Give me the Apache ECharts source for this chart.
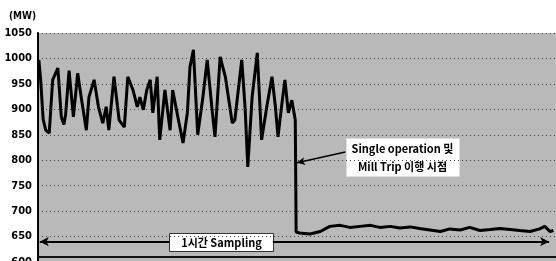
<!DOCTYPE html>
<html><head><meta charset="utf-8">
<script src="https://cdn.jsdelivr.net/npm/echarts@6/dist/echarts.min.js"></script>
<style>html,body{margin:0;padding:0;background:#fff}#c{width:556px;height:261px}</style>
</head><body><div id="c"></div>
<script>
// time in minutes (1 hour sampling window), power in MW
const timeMin = [0.1,0.3,0.6,0.9,1.3,1.7,2.3,2.7,3.0,3.2,3.6,4.1,4.6,5.0,5.6,5.9,6.5,7.0,7.5,7.9,8.2,8.8,9.4,10.0,10.4,11.0,11.5,11.8,12.2,12.6,13.0,13.3,13.8,14.1,14.7,15.3,15.6,16.2,16.8,17.3,17.6,18.0,18.5,19.1,19.6,20.2,20.5,21.1,21.7,22.5,22.8,23.6,24.0,24.3,24.8,25.4,25.9,26.5,27.1,27.5,27.8,28.3,28.6,29.0,29.4,29.8,29.9,30.3,31.5,32.7,33.8,35.0,36.1,37.3,38.5,39.6,40.8,41.9,43.1,44.2,45.4,46.6,47.7,48.9,50.0,51.2,52.4,53.5,54.7,55.8,57.0,58.1,58.7,59.3,59.7];
const powerMW = [997,960,880,859,853,958,981,885,870,890,976,885,971,924,859,924,958,905,873,905,859,964,879,865,964,938,905,924,899,938,958,893,964,840,938,859,938,885,834,893,983,1017,850,924,997,893,846,1003,964,873,879,997,900,787,924,1011,840,905,964,905,846,918,958,893,918,879,659,657,655,660,670,672,668,670,672,668,670,667,669,666,663,660,665,663,668,662,664,666,664,662,660,665,670,660,662];
const yTicks = [600,650,700,750,800,850,900,950,1000,1050];
const unitLabel = '(MW)';
const noteTrip = ['Single operation 및','Mill Trip 이행 시점'];
const noteSampling = '1시간 Sampling';

const chart = echarts.init(document.getElementById('c'));
const font = "'DejaVu Sans Condensed','DejaVu Sans',sans-serif";
const kfont = "'Noto Sans CJK KR','DejaVu Sans Condensed',sans-serif";
const arrowStyle = {color:'#000',width:2,type:'solid'};
chart.setOption({
  animation:false,
  backgroundColor:'#fff',
  grid:{left:38,right:0,top:33,height:229,outerBoundsMode:'none',containLabel:false,show:true,backgroundColor:'#b9b9b9',borderWidth:0},
  xAxis:{type:'value',min:0,max:60,show:false},
  yAxis:{type:'value',min:yTicks[0],max:yTicks[yTicks.length-1],interval:50,
    axisLine:{show:true,lineStyle:{color:'#000',width:2}},axisTick:{show:false},
    axisLabel:{color:'#000',fontFamily:font,fontWeight:'bold',fontSize:11,margin:6,formatter:v=>String(v)},
    splitLine:{show:true,lineStyle:{color:'#444',type:[1,3],width:1}}},
  graphic:[
    {type:'text',left:9,top:11,style:{text:unitLabel,font:"bold 10px "+font,fill:'#000'}},
    {type:'rect',shape:{x:38,y:256,width:518,height:2},style:{fill:'#111'},z:5},
    {type:'group',left:169,top:233,children:[
      {type:'rect',shape:{x:0,y:0,width:104,height:18},style:{fill:'#fff',stroke:'#333',lineWidth:1}},
      {type:'text',style:{x:52,y:9,text:noteSampling,textAlign:'center',textVerticalAlign:'middle',font:"bold 11px "+kfont,fill:'#000'}}
    ]},
    {type:'group',left:346,top:138,children:[
      {type:'rect',shape:{x:0,y:0,width:113,height:38},style:{fill:'#fff',stroke:'#ddd',lineWidth:1}},
      {type:'text',style:{x:56,y:10,text:noteTrip[0],textAlign:'center',textVerticalAlign:'middle',font:"bold 11px "+kfont,fill:'#000'}},
      {type:'text',style:{x:56,y:28,text:noteTrip[1],textAlign:'center',textVerticalAlign:'middle',font:"bold 11px "+kfont,fill:'#000'}}
    ]}
  ],
  series:[{
    type:'line',data:timeMin.map((t,i)=>[t,powerMW[i]]),showSymbol:false,
    lineStyle:{color:'#000',width:3},z:10,
    markLine:{silent:true,label:{show:false},z:15,
      data:[
        [{coord:[0.2,640],symbol:'arrow',symbolSize:[7,9],lineStyle:arrowStyle},{coord:[15.2,640],symbol:'none'}],
        [{coord:[27.2,640],symbol:'none',lineStyle:arrowStyle},{coord:[59.2,640],symbol:'arrow',symbolSize:[7,9]}],
        [{coord:[35.6,816],symbol:'none',lineStyle:{color:'#000',width:1.5,type:'solid'}},{coord:[30.0,795],symbol:'arrow',symbolSize:[6,8]}]
      ]}
  }]
});
</script></body></html>
